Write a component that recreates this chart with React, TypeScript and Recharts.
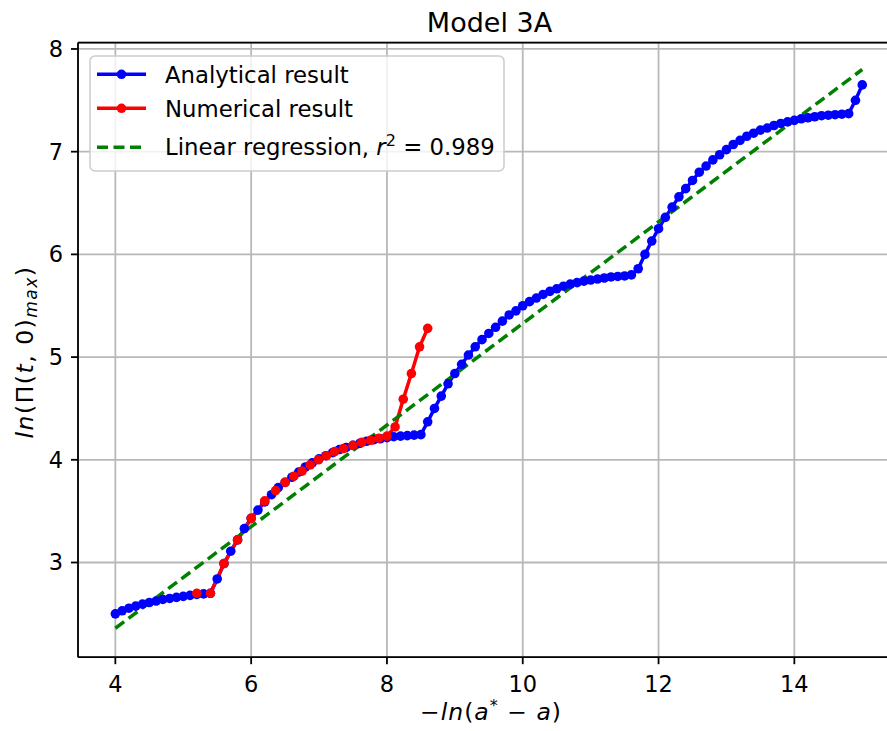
import React from 'react';
import {
  LineChart,
  Line,
  XAxis,
  YAxis,
  CartesianGrid,
  ReferenceLine
} from 'recharts';

// Analytical result (blue), sampled every 0.1 on the x axis
const analyticalX = [
  4.0, 4.1, 4.2, 4.3, 4.4, 4.5, 4.6, 4.7, 4.8, 4.9,
  5.0, 5.1, 5.2, 5.3, 5.4, 5.5, 5.6, 5.7, 5.8, 5.9,
  6.0, 6.1, 6.2, 6.3, 6.4, 6.5, 6.6, 6.7, 6.8, 6.9,
  7.0, 7.1, 7.2, 7.3, 7.4, 7.5, 7.6, 7.7, 7.8, 7.9,
  8.0, 8.1, 8.2, 8.3, 8.4, 8.5, 8.6, 8.7, 8.8, 8.9,
  9.0, 9.1, 9.2, 9.3, 9.4, 9.5, 9.6, 9.7, 9.8, 9.9,
  10.0, 10.1, 10.2, 10.3, 10.4, 10.5, 10.6, 10.7, 10.8, 10.9,
  11.0, 11.1, 11.2, 11.3, 11.4, 11.5, 11.6, 11.7, 11.8, 11.9,
  12.0, 12.1, 12.2, 12.3, 12.4, 12.5, 12.6, 12.7, 12.8, 12.9,
  13.0, 13.1, 13.2, 13.3, 13.4, 13.5, 13.6, 13.7, 13.8, 13.9,
  14.0, 14.1, 14.2, 14.3, 14.4, 14.5, 14.6, 14.7, 14.8, 14.9,
  15.0
];
const analyticalY = [
  2.50, 2.53, 2.555, 2.575, 2.595, 2.61, 2.625, 2.64, 2.65, 2.66,
  2.67, 2.68, 2.69, 2.695, 2.70, 2.84, 2.99, 3.11, 3.22, 3.33,
  3.43, 3.51, 3.59, 3.66, 3.73, 3.78, 3.83, 3.88, 3.93, 3.97,
  4.01, 4.04, 4.07, 4.10, 4.12, 4.14, 4.16, 4.18, 4.195, 4.205,
  4.215, 4.225, 4.23, 4.235, 4.24, 4.245, 4.37, 4.50, 4.62, 4.74,
  4.84, 4.93, 5.02, 5.10, 5.17, 5.23, 5.29, 5.35, 5.41, 5.45,
  5.50, 5.54, 5.575, 5.61, 5.64, 5.665, 5.69, 5.71, 5.725, 5.74,
  5.75, 5.76, 5.77, 5.78, 5.785, 5.79, 5.80, 5.86, 6.00, 6.13,
  6.25, 6.36, 6.46, 6.56, 6.64, 6.72, 6.80, 6.86, 6.92, 6.97,
  7.02, 7.07, 7.11, 7.15, 7.18, 7.21, 7.23, 7.255, 7.275, 7.29,
  7.305, 7.32, 7.33, 7.34, 7.35, 7.355, 7.36, 7.365, 7.37, 7.50,
  7.65
];

// Numerical result (red)
const numericalX = [
  5.2, 5.4, 5.6, 5.8, 6.0, 6.2, 6.36, 6.5, 6.63, 6.75,
  6.87, 6.99, 7.11, 7.23, 7.36, 7.5, 7.63, 7.76, 7.88, 8.0,
  8.12, 8.24, 8.36, 8.48, 8.6
];
const numericalY = [
  2.70, 2.70, 2.99, 3.22, 3.43, 3.60, 3.70, 3.78, 3.84, 3.89,
  3.95, 4.00, 4.04, 4.08, 4.11, 4.14, 4.17, 4.19, 4.21, 4.23,
  4.32, 4.59, 4.84, 5.10, 5.28
];

// Linear regression (green dashed)
const regressionX = [4.0, 15.0];
const regressionY = [2.36, 7.80];

const xTicks = [4, 6, 8, 10, 12, 14];
const yTicks = [3, 4, 5, 6, 7, 8];

const analytical = analyticalX.map((x, i) => ({ x, y: analyticalY[i] }));
const numerical = numericalX.map((x, i) => ({ x, y: numericalY[i] }));
const regression = regressionX.map((x, i) => ({ x, y: regressionY[i] }));

const FONT = '"DejaVu Sans", sans-serif';
const X_DOMAIN: [number, number] = [3.45, 15.55];
const Y_DOMAIN: [number, number] = [2.078, 8.062];

const BLUE = '#0000ff';
const RED = '#ff0000';
const GREEN = '#008000';
const LW = 3.5;
const DOT_R = 4.8;

// Legend, title and axis labels drawn on top of the chart
const Overlay = () => (
  <svg
    width={887}
    height={731}
    style={{ position: 'absolute', left: 0, top: 0, pointerEvents: 'none' }}
    fontFamily={FONT}
  >
    <text x={489.5} y={31.5} textAnchor="middle" fontSize={27} fill="#000">
      Model 3A
    </text>

    {/* x label: -ln(a* - a) */}
    <text
      x={491}
      y={720}
      textAnchor="middle"
      fontSize={23.5}
      fill="#000"
      style={{ letterSpacing: '1px' }}
    >
      <tspan>−</tspan>
      <tspan fontStyle="italic">ln</tspan>
      <tspan>(</tspan>
      <tspan fontStyle="italic">a</tspan>
      <tspan fontSize={16} dy={-9}>*</tspan>
      <tspan dy={9}> − </tspan>
      <tspan fontStyle="italic">a</tspan>
      <tspan>)</tspan>
    </text>

    {/* y label: ln(Π(t, 0)_max) */}
    <text
      x={33}
      y={352}
      textAnchor="middle"
      fontSize={23.5}
      fill="#000"
      transform="rotate(-90 33 352)"
      style={{ letterSpacing: '1.5px' }}
    >
      <tspan fontStyle="italic">ln</tspan>
      <tspan>(Π(</tspan>
      <tspan fontStyle="italic">t</tspan>
      <tspan>, 0)</tspan>
      <tspan fontStyle="italic" fontSize={17} dy={4}>max</tspan>
      <tspan dy={-4}>)</tspan>
    </text>

    {/* legend */}
    <rect
      x={90}
      y={56}
      width={414}
      height={115}
      rx={5}
      fill="rgba(255,255,255,0.8)"
      stroke="#cccccc"
      strokeWidth={1.5}
    />
    <line x1={97} y1={74.3} x2={146} y2={74.3} stroke={BLUE} strokeWidth={LW} />
    <circle cx={121.5} cy={74.3} r={DOT_R} fill={BLUE} />
    <text x={165} y={82.7} fontSize={22.8} fill="#000">Analytical result</text>

    <line x1={97} y1={108.3} x2={146} y2={108.3} stroke={RED} strokeWidth={LW} />
    <circle cx={121.5} cy={108.3} r={DOT_R} fill={RED} />
    <text x={165} y={116.7} fontSize={22.8} fill="#000">Numerical result</text>

    <line
      x1={97}
      y1={147.3}
      x2={146}
      y2={147.3}
      stroke={GREEN}
      strokeWidth={LW}
      strokeDasharray="11 5.5"
    />
    <text x={165} y={155} fontSize={22.8} fill="#000">
      <tspan>Linear regression, </tspan>
      <tspan fontStyle="italic">r</tspan>
      <tspan fontSize={16} dy={-9}>2</tspan>
      <tspan dy={9}> = 0.989</tspan>
    </text>
  </svg>
);

const App: React.FC = () => {
  return (
    <div
      style={{
        position: 'fixed',
        left: 0,
        top: 0,
        width: 887,
        height: 731,
        overflow: 'hidden',
        background: '#ffffff'
      }}
    >
      <LineChart
        width={920}
        height={731}
        margin={{ top: 42.6, right: 20.4, bottom: 0, left: 8 }}
      >
        <CartesianGrid stroke="#b8b8b8" strokeWidth={1.8} />

        <XAxis
          type="number"
          dataKey="x"
          domain={X_DOMAIN}
          ticks={xTicks}
          allowDataOverflow
          height={73.8}
          tickSize={7}
          tickMargin={12}
          tick={{ fill: '#000', fontSize: 22.5, fontFamily: FONT }}
          tickLine={{ stroke: '#000', strokeWidth: 1.8 }}
          axisLine={{ stroke: '#000', strokeWidth: 1.8 }}
        />
        <YAxis
          type="number"
          dataKey="y"
          domain={Y_DOMAIN}
          ticks={yTicks}
          allowDataOverflow
          width={70}
          tickSize={7}
          tickMargin={8}
          tick={{ fill: '#000', fontSize: 22.5, fontFamily: FONT }}
          tickLine={{ stroke: '#000', strokeWidth: 1.8 }}
          axisLine={{ stroke: '#000', strokeWidth: 1.8 }}
        />

        {/* top and right spines */}
        <ReferenceLine y={Y_DOMAIN[1]} stroke="#000" strokeWidth={1.8} />
        <ReferenceLine x={X_DOMAIN[1]} stroke="#000" strokeWidth={1.8} />

        <Line
          data={analytical}
          dataKey="y"
          type="linear"
          stroke={BLUE}
          strokeWidth={LW}
          dot={{ r: DOT_R, fill: BLUE, stroke: BLUE, strokeWidth: 0 }}
          activeDot={false}
          isAnimationActive={false}
        />
        <Line
          data={numerical}
          dataKey="y"
          type="linear"
          stroke={RED}
          strokeWidth={LW}
          dot={{ r: DOT_R, fill: RED, stroke: RED, strokeWidth: 0 }}
          activeDot={false}
          isAnimationActive={false}
        />
        <Line
          data={regression}
          dataKey="y"
          type="linear"
          stroke={GREEN}
          strokeWidth={LW}
          strokeDasharray="11 5.5"
          dot={false}
          activeDot={false}
          isAnimationActive={false}
        />
      </LineChart>
      <Overlay />
    </div>
  );
};

export default App;
